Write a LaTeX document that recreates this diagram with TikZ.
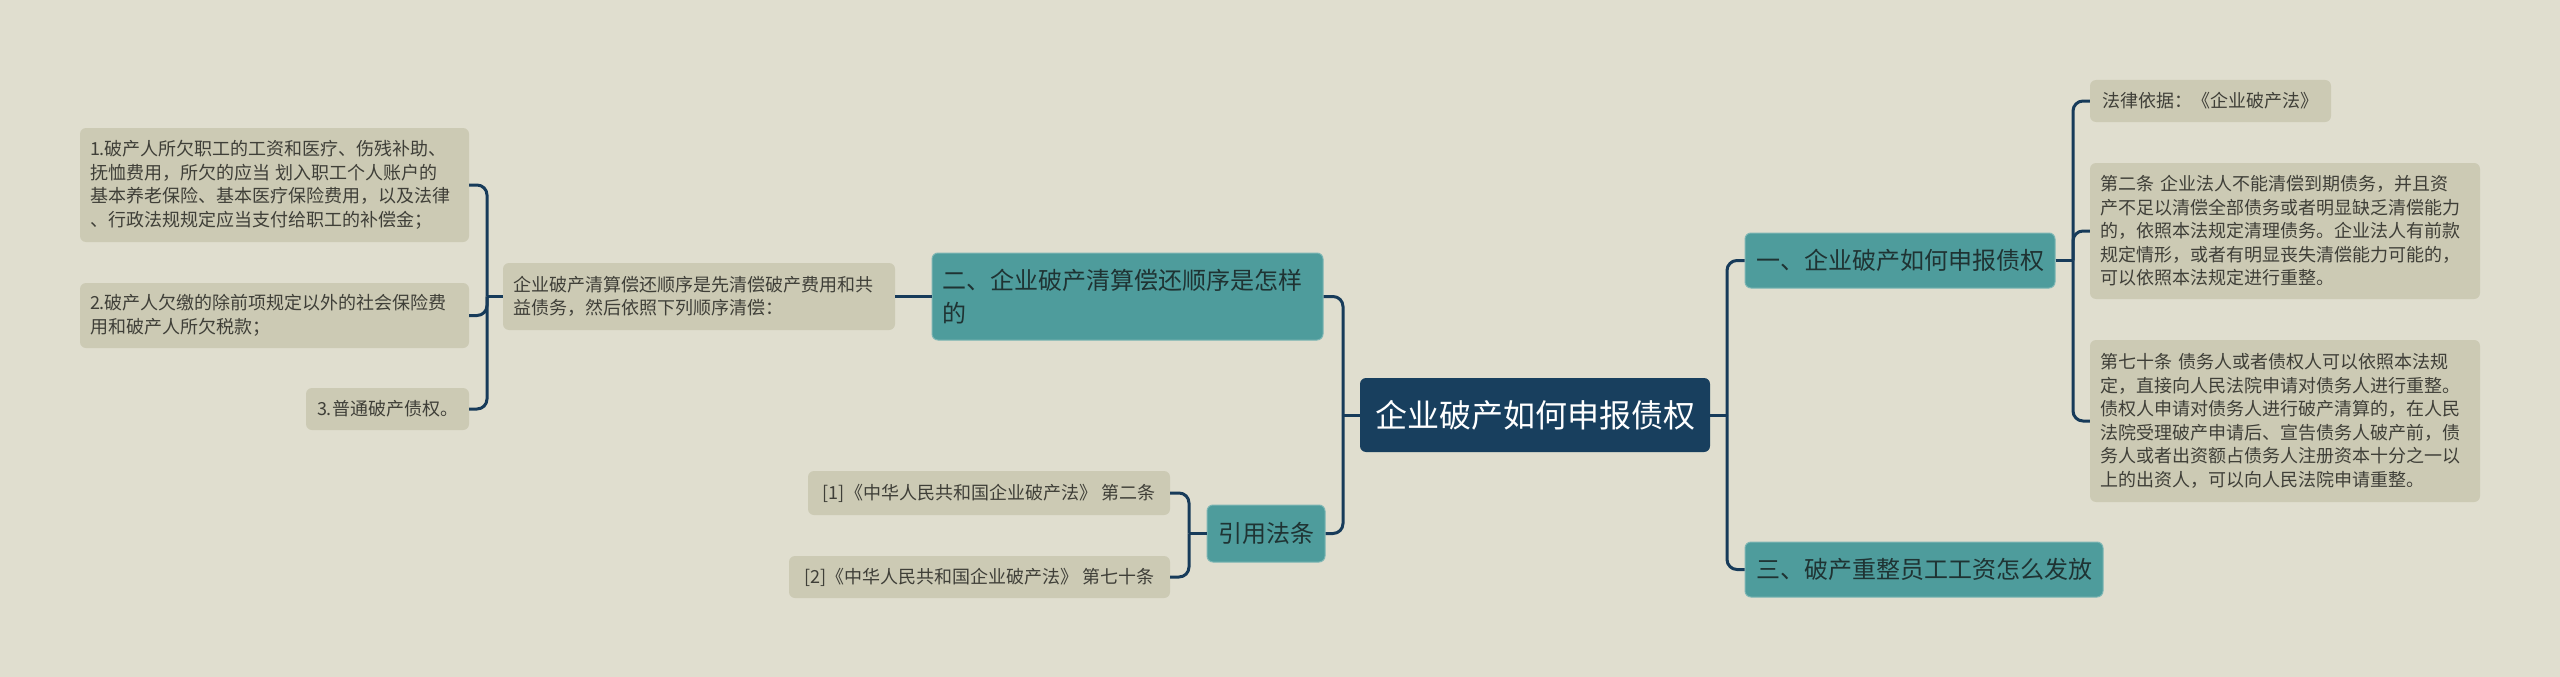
\documentclass[tikz,border=0pt]{standalone}
\usepackage{fontspec}
\setmainfont{Noto Sans CJK SC}
\definecolor{bgc}{HTML}{E0DECF}
\definecolor{leafc}{HTML}{CCCAB4}
\definecolor{leaftext}{HTML}{3F3F38}
\definecolor{tealc}{HTML}{4E9C9C}
\definecolor{tealedge}{HTML}{7DB6B4}
\definecolor{tealtext}{HTML}{1F3333}
\definecolor{rootc}{HTML}{183F5E}
\definecolor{navy}{HTML}{173B5A}
\begin{document}
\begin{tikzpicture}[x=1pt,y=-1pt,
  basebox/.style={rounded corners=6pt, inner xsep=10pt, inner ysep=0pt, anchor=center},
  leafbox/.style={basebox, fill=leafc, text=leaftext, font=\fontsize{18}{23.5}\selectfont},
  tealbox/.style={basebox, fill=tealc, draw=tealedge, line width=1pt, text=tealtext, font=\fontsize{24}{33}\selectfont},
  rootbox/.style={basebox, fill=rootc, text=white, font=\fontsize{32}{38}\selectfont},
  conn/.style={draw=navy, line width=3pt, rounded corners=10pt}]
\fill[bgc] (0,0) rectangle (2560,677);
\useasboundingbox (0,0) rectangle (2560,677);

% root
\node[rootbox, minimum width=350pt, minimum height=74pt] (root) at (1535,415) {企业破产如何申报债权};

% right side
\node[tealbox, minimum width=310pt, minimum height=55pt] (b1) at (1900,260.5) {一、企业破产如何申报债权};
\node[tealbox, minimum width=358pt, minimum height=55pt] (b3) at (1924,569.5) {三、破产重整员工工资怎么发放};

\node[leafbox, minimum width=241pt, minimum height=42pt] (r1) at (2210.5,101) {法律依据：《企业破产法》};
\node[leafbox, text width=370pt, align=left, minimum height=136pt] (r2) at (2285,231) {第二条 企业法人不能清偿到期债务，并且资\\产不足以清偿全部债务或者明显缺乏清偿能力\\的，依照本法规定清理债务。企业法人有前款\\规定情形，或者有明显丧失清偿能力可能的，\\可以依照本法规定进行重整。};
\node[leafbox, text width=370pt, align=left, minimum height=162pt] (r3) at (2285,421) {第七十条 债务人或者债权人可以依照本法规\\定，直接向人民法院申请对债务人进行重整。\\债权人申请对债务人进行破产清算的，在人民\\法院受理破产申请后、宣告债务人破产前，债\\务人或者出资额占债务人注册资本十分之一以\\上的出资人，可以向人民法院申请重整。};

% left side
\node[tealbox, text width=371pt, align=left, minimum height=87pt] (b2) at (1127.5,296.5) {二、企业破产清算偿还顺序是怎样\\的};
\node[tealbox, minimum width=118pt, minimum height=57pt] (b4) at (1266,533.5) {引用法条};

\node[leafbox, text width=372pt, align=left, minimum height=67pt] (q) at (699,296.5) {企业破产清算偿还顺序是先清偿破产费用和共\\益债务，然后依照下列顺序清偿：};
\node[leafbox, text width=369pt, align=left, minimum height=114pt] (c1) at (274.5,185) {1.破产人所欠职工的工资和医疗、伤残补助、\\抚恤费用，所欠的应当 划入职工个人账户的\\基本养老保险、基本医疗保险费用，以及法律\\、行政法规规定应当支付给职工的补偿金；};
\node[leafbox, text width=369pt, align=left, minimum height=65pt] (c2) at (274.5,315.5) {2.破产人欠缴的除前项规定以外的社会保险费\\用和破产人所欠税款；};
\node[leafbox, minimum width=163pt, minimum height=42pt] (c3) at (387.5,409) {3.普通破产债权。};

\node[leafbox, minimum width=362pt, minimum height=44pt] (s1) at (989,493) {[1]《中华人民共和国企业破产法》 第二条};
\node[leafbox, minimum width=381pt, minimum height=42pt] (s2) at (979.5,577) {[2]《中华人民共和国企业破产法》 第七十条};

% junctions
\coordinate (jR) at (1727,415);
\coordinate (jL) at (1343,415);
\coordinate (j1) at (2073,260.5);
\coordinate (jQ) at (487,296.5);
\coordinate (j4) at (1189,533.5);

% connectors
\draw[conn] (root.east) -- (jR);
\draw[conn] (jR) |- (b1.west);
\draw[conn] (jR) |- (b3.west);
\draw[conn] (root.west) -- (jL);
\draw[conn] (jL) |- (b2.east);
\draw[conn] (jL) |- (b4.east);

\draw[conn] (b1.east) -- (j1);
\draw[conn] (j1) |- (r1.west);
\draw[conn] (j1) |- (r2.west);
\draw[conn] (j1) |- (r3.west);

\draw[conn] (b2.west) -- (q.east);
\draw[conn] (q.west) -- (jQ);
\draw[conn] (jQ) |- (c1.east);
\draw[conn] (jQ) |- (c2.east);
\draw[conn] (jQ) |- (c3.east);

\draw[conn] (b4.west) -- (j4);
\draw[conn] (j4) |- (s1.east);
\draw[conn] (j4) |- (s2.east);
\end{tikzpicture}
\end{document}
